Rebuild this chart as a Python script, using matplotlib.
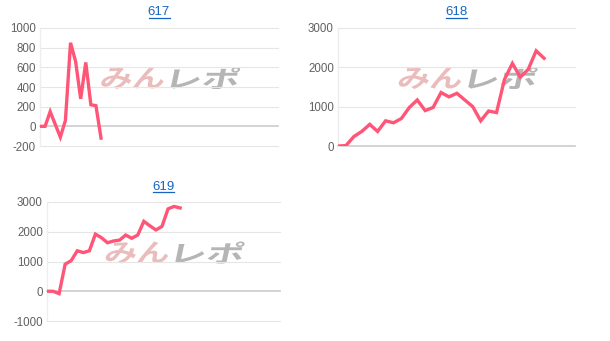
import matplotlib
matplotlib.use("Agg")
import matplotlib.pyplot as plt
from matplotlib.textpath import TextPath
from matplotlib.patches import PathPatch
from matplotlib.font_manager import FontProperties
from matplotlib.transforms import Affine2D, IdentityTransform

titles = ["617", "618", "619"]

v617 = [0, 0, 150, 20, -110, 60, 850, 660, 280, 650, 220, 210, -120]
v618 = [0, 10, 240, 370, 550, 370, 640, 590, 700, 980, 1170, 900, 980, 1360,
        1250, 1340, 1170, 1000, 640, 890, 850, 1690, 2100, 1750, 1950, 2420, 2230]
v619 = [0, 0, -80, 910, 1030, 1360, 1300, 1360, 1920, 1800, 1630, 1690, 1720,
        1890, 1780, 1890, 2350, 2200, 2060, 2180, 2770, 2850, 2800]

series = [v617, v618, v619]
yticks = [[-200, 0, 200, 400, 600, 800, 1000], [0, 1000, 2000, 3000], [-1000, 0, 1000, 2000, 3000]]
xspan = [46.8, 29.9, 38.5]

W, H = 610, 341
fig = plt.figure(figsize=(W / 100, H / 100), dpi=100)
plt.rcParams['font.family'] = ['Liberation Sans', 'DejaVu Sans']

boxes = [(40, 278, 28, 146), (338, 575, 28, 146), (47, 280, 202, 321)]
title_y = [12, 12, 186.5]

line_color = "#ff5577"
fp = FontProperties(family="Noto Sans CJK JP", weight="bold")


def watermark(text, x0, x1, ytop, ybot, color):
    tp = TextPath((0, 0), text, size=20, prop=fp)
    ext = tp.get_extents()
    sx = (x1 - x0) / ext.width
    sy = (ybot - ytop) / ext.height
    tr = (Affine2D().translate(-ext.x0, -ext.y0).scale(sx, sy)
          .skew_deg(12, 0).translate(x0, H - ybot))
    path = tr.transform_path(tp)
    patch = PathPatch(path, facecolor=color, edgecolor="none",
                      transform=IdentityTransform(), zorder=2)
    fig.add_artist(patch)


for i, (vals, box) in enumerate(zip(series, boxes)):
    l, r, t, b = box
    ax = fig.add_axes([l / W, 1 - b / H, (r - l) / W, (b - t) / H])
    ax.set_zorder(3)
    ax.patch.set_visible(False)
    xs = list(range(len(vals)))
    ax.plot(xs, vals, color=line_color, lw=2.4, solid_joinstyle="miter", zorder=3)
    ax.set_xlim(0, xspan[i])
    yt = yticks[i]
    ax.set_ylim(yt[0], yt[-1])
    ax.set_yticks(yt)
    ax.set_yticklabels([str(v) for v in yt], color="#606060", fontsize=8.3)
    ax.set_xticks([])
    ax.tick_params(axis="y", length=0, pad=3)
    for y in yt:
        ax.axhline(y, color="#cccccc" if y == 0 else "#e6e6e6",
                   lw=1.2 if y == 0 else 0.8, zorder=1, clip_on=False)
    for s in ["top", "right", "bottom"]:
        ax.spines[s].set_visible(False)
    ax.spines["left"].set_color("#eeeeee")
    ax.spines["left"].set_linewidth(1)
    cx = (l + r) / 2
    cy = (t + b) / 2
    wx = cx + 11
    wy = cy - 9
    watermark("みん", wx - 70, wx - 8, wy - 11, wy + 11, "#eabcbc")
    watermark("レポ", wx + 0, wx + 66, wy - 11, wy + 11, "#b5b5b5")
    fig.text(cx / W, 1 - title_y[i] / H, titles[i], ha="center", va="center",
             color="#1565c0", fontsize=9.5)
    tw = 21
    fig.add_artist(plt.Line2D([(cx - tw / 2) / W, (cx + tw / 2) / W],
                              [1 - (title_y[i] + 5.5) / H] * 2, color="#1565c0", lw=0.9))

fig.savefig("out.png", dpi=100)
